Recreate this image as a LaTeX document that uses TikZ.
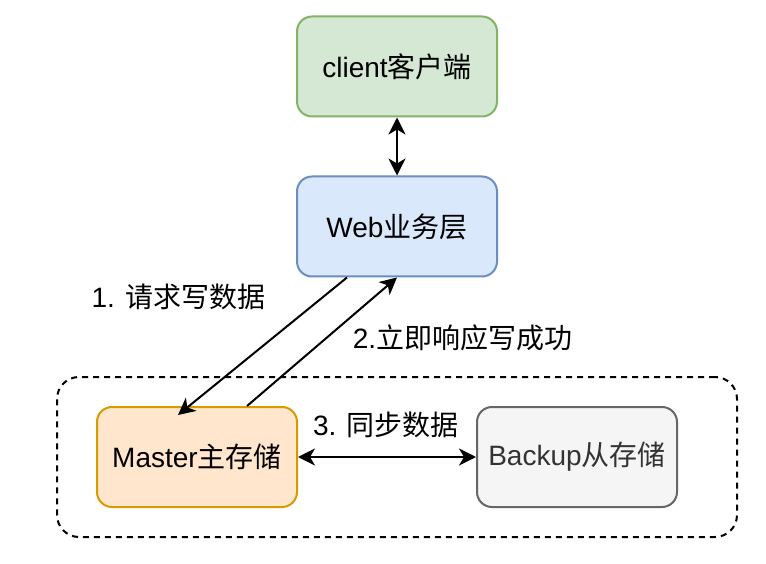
\documentclass[tikz,border=0pt]{standalone}
\usepackage{fontspec}
\setmainfont{Liberation Sans}
\newfontfamily\cjk{Noto Sans CJK SC}
\usetikzlibrary{arrows.meta}
\definecolor{gfill}{HTML}{D5E8D4}
\definecolor{gdraw}{HTML}{82B366}
\definecolor{bfill}{HTML}{DAE8FC}
\definecolor{bdraw}{HTML}{6C8EBF}
\definecolor{ofill}{HTML}{FFE6CC}
\definecolor{odraw}{HTML}{D79B00}
\definecolor{grfill}{HTML}{F5F5F5}
\definecolor{grdraw}{HTML}{666666}
\definecolor{grtext}{HTML}{333333}
\begin{document}
\begin{tikzpicture}[x=1pt,y=-1pt,
  font=\fontsize{28}{33}\selectfont,
  box/.style={draw, line width=2pt, rounded corners=15pt, minimum width=200pt, minimum height=100pt, inner sep=0pt},
  group/.style={draw, line width=2pt, dash pattern=on 6pt off 5pt, rounded corners=22pt, minimum width=680pt, minimum height=160pt, inner sep=0pt},
  tip/.tip={Stealth[length=17pt,width=17pt,inset=5pt]},
  arr/.style={line width=2pt, -tip},
  arrtwo/.style={line width=2pt, tip-tip},
  lbl/.style={inner sep=0pt}]
\useasboundingbox[fill=white] (0,0) rectangle (766,564);
\node[group] (grp) at (397,457) {};
\node[box, fill=gfill, draw=gdraw] (client) at (397,66.5) {client{\cjk 客户端}};
\node[box, fill=bfill, draw=bdraw] (web) at (397,226.5) {Web{\cjk 业务层}};
\node[box, fill=ofill, draw=odraw] (master) at (197,457) {Master{\cjk 主存储}};
\node[box, fill=grfill, draw=grdraw, text=grtext] (backup) at (577,457) {Backup{\cjk 从存储}};
\draw[arrtwo] (client.south) -- (web.north);
\draw[arr] ([xshift=-50pt]web.south) -- ([xshift=-19pt,yshift=-9pt]master.north);
\draw[arr] ([xshift=50pt]master.north) -- (web.south);
\draw[arrtwo] (master.east) -- (backup.west);
\node[lbl] (l1) at (178.5,297) {1. {\cjk 请求写数据}};
\node[lbl] (l2) at (462.5,338) {2.{\cjk 立即响应写成功}};
\node[lbl] (l3) at (386,425) {3. {\cjk 同步数据}};
\end{tikzpicture}
\end{document}
